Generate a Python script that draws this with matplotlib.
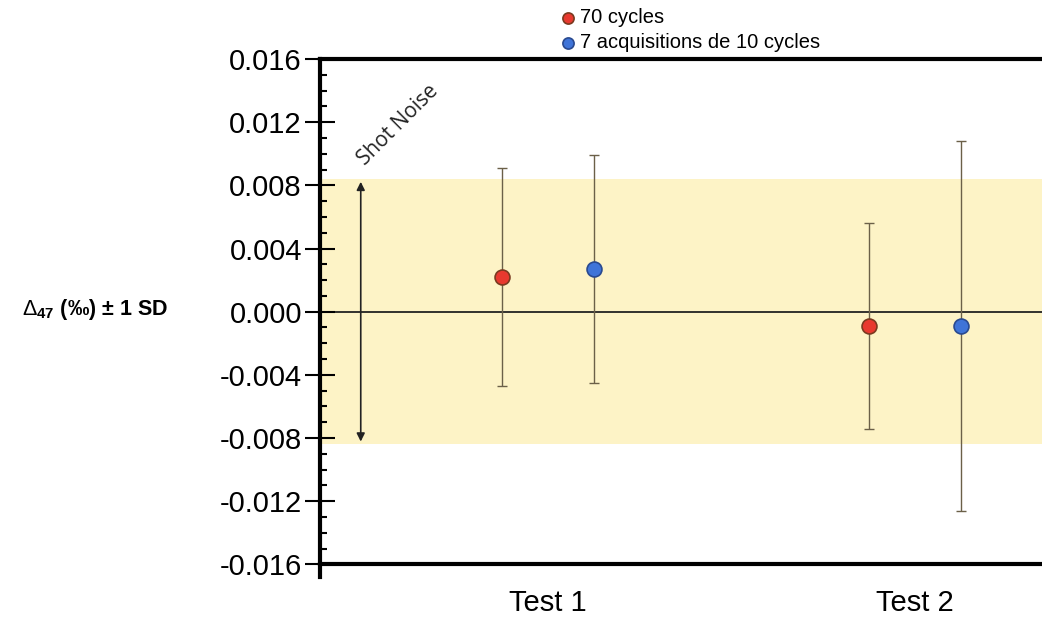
import numpy as np
import matplotlib.pyplot as plt
from matplotlib.ticker import MultipleLocator, FormatStrFormatter

plt.rcParams['font.family'] = ['Liberation Sans', 'DejaVu Sans']
plt.rcParams['mathtext.fontset'] = 'custom'
plt.rcParams['mathtext.rm'] = 'Liberation Sans'
plt.rcParams['mathtext.bf'] = 'Liberation Sans:bold'

tests = ['Test 1', 'Test 2']
series = ['70 cycles', '7 acquisitions de 10 cycles']
colors = ['#e8392f', '#3f74d8']
means = [[0.0022, -0.0009], [0.0027, -0.0009]]
err_up = [[0.0069, 0.0065], [0.0072, 0.0117]]
err_down = [[0.0069, 0.0065], [0.0072, 0.0117]]
shot_noise = 0.0084

fig = plt.figure(figsize=(10.42, 6.17), dpi=100)
ax = fig.add_axes([320 / 1042, 1 - 577 / 617, 1 - 320 / 1042, (577 - 59) / 617])

x = np.arange(1, len(tests) + 1)
offsets = [-0.125, 0.125]

ax.axhspan(-shot_noise, shot_noise, color='#fdf3c6', zorder=0, lw=0)
ax.axhline(0, color='#222222', lw=1.3, zorder=1)

for i, name in enumerate(series):
    xs = x + offsets[i]
    ax.errorbar(xs, means[i], yerr=[err_down[i], err_up[i]], fmt='none',
                ecolor='#6b6048', elinewidth=1, capsize=3.5, capthick=1, zorder=2)
    ax.scatter(xs, means[i], s=115, color=colors[i], edgecolors='#7a3a20' if i == 0 else '#2a4a90',
               linewidths=1.2, zorder=3, label=name)

# shot noise arrow
ax.annotate('', xy=(0.49, shot_noise), xytext=(0.49, -shot_noise),
            arrowprops=dict(arrowstyle='<|-|>', color='#222222', lw=1.2, mutation_scale=12))
ax.text(0.593, 0.0118, 'Shot Noise', rotation=45, fontsize=15, family='Open Sans',
        color='#222222', ha='center', va='center')

ax.set_xlim(0.379, 2.346)
ax.set_ylim(-0.0168, 0.016)

ax.spines['right'].set_visible(False)
ax.spines['bottom'].set_position(('data', -0.016))
for s in ['left', 'top', 'bottom']:
    ax.spines[s].set_linewidth(3)

ax.set_xticks(x)
ax.set_xticklabels(tests)
ax.tick_params(axis='x', length=0, pad=18, labelsize=21)

ax.yaxis.set_major_locator(MultipleLocator(0.004))
ax.yaxis.set_minor_locator(MultipleLocator(0.001))
ax.yaxis.set_major_formatter(FormatStrFormatter('%.3f'))
ax.set_yticks(np.arange(-0.016, 0.0161, 0.004))
ax.tick_params(axis='y', which='major', direction='inout', length=22, width=1.5, labelsize=21, pad=2)
ax.tick_params(axis='y', which='minor', direction='in', length=5, width=1.5)

fig.text(22 / 1042, 1 - 310 / 617, r'$\Delta_{\mathbf{47}}$ (‰) ± 1 SD', fontsize=15.5,
         fontweight='bold', ha='left', va='center')

fig.legend(loc='upper left', bbox_to_anchor=(546 / 1042, 1 + 2 / 617), frameon=False,
           fontsize=14.5, handletextpad=0.0, labelspacing=0.3, handlelength=1.2,
           markerscale=0.75, borderpad=0)

fig.savefig('out.png', dpi=100)
